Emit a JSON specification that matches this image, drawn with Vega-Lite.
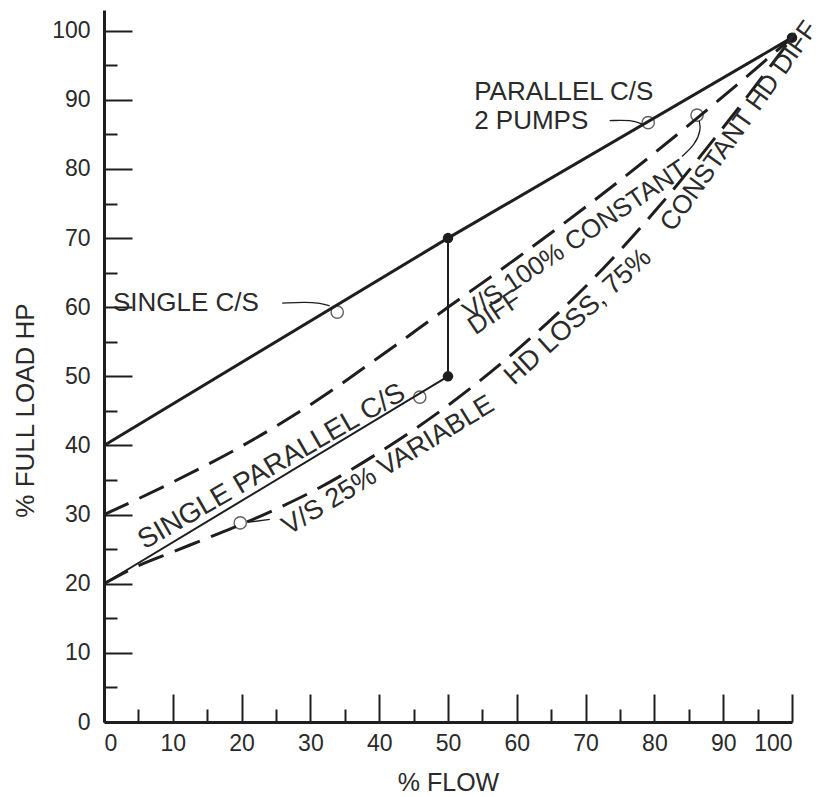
{
  "$schema": "https://vega.github.io/schema/vega-lite/v6.json",
  "autosize": {"type": "none"},
  "padding": {"left": 104, "top": 10, "right": 30, "bottom": 75},
  "width": 688,
  "height": 712,
  "background": "white",
  "config": {
    "view": {"stroke": null},
    "font": "Liberation Sans",
    "axis": {
      "grid": false,
      "domainColor": "#1e1e1e",
      "domainWidth": 3,
      "tickColor": "#1e1e1e",
      "tickWidth": 2,
      "labelColor": "#2a2a2a",
      "labelFont": "Liberation Sans",
      "labelFontSize": 23,
      "titleFont": "Liberation Sans",
      "titleFontSize": 26,
      "titleFontWeight": "normal",
      "titleColor": "#2a2a2a"
    }
  },
  "resolve": {"axis": {"x": "independent", "y": "independent"}},
  "datasets": {
    "lines": [
      {"s": "single", "x": 0, "y": 40}, {"s": "single", "x": 50, "y": 70},
      {"s": "par2", "x": 50, "y": 70}, {"s": "par2", "x": 100, "y": 99},
      {"s": "vert", "x": 50, "y": 50}, {"s": "vert", "x": 50, "y": 70},
      {"s": "spar", "x": 0, "y": 20}, {"s": "spar", "x": 50, "y": 50},
      {"s": "vs100", "x": 0, "y": 30}, {"s": "vs100", "x": 10, "y": 34.7}, {"s": "vs100", "x": 20, "y": 39.9},
      {"s": "vs100", "x": 30, "y": 45.9}, {"s": "vs100", "x": 40, "y": 52.8}, {"s": "vs100", "x": 50, "y": 60},
      {"s": "vs100", "x": 60, "y": 67.1}, {"s": "vs100", "x": 70, "y": 74.5}, {"s": "vs100", "x": 80, "y": 82.3},
      {"s": "vs100", "x": 90, "y": 90.5}, {"s": "vs100", "x": 100, "y": 99},
      {"s": "vs25", "x": 0, "y": 20}, {"s": "vs25", "x": 5, "y": 22.6}, {"s": "vs25", "x": 10, "y": 24.6},
      {"s": "vs25", "x": 15, "y": 26.6}, {"s": "vs25", "x": 20, "y": 28.6}, {"s": "vs25", "x": 25, "y": 30.8},
      {"s": "vs25", "x": 30, "y": 33.2}, {"s": "vs25", "x": 40, "y": 39}, {"s": "vs25", "x": 50, "y": 45.8},
      {"s": "vs25", "x": 60, "y": 53.8}, {"s": "vs25", "x": 70, "y": 63}, {"s": "vs25", "x": 80, "y": 73.8},
      {"s": "vs25", "x": 90, "y": 86}, {"s": "vs25", "x": 100, "y": 99}
    ],
    "leaders": [
      {"id": "a", "o": 1, "x": 25.9, "y": 60.6}, {"id": "a", "o": 2, "x": 30.7, "y": 60.8}, {"id": "a", "o": 3, "x": 32.8, "y": 60.2},
      {"id": "b", "o": 1, "x": 73.5, "y": 87.0}, {"id": "b", "o": 2, "x": 76.7, "y": 87.1}, {"id": "b", "o": 3, "x": 78.2, "y": 86.5},
      {"id": "c", "o": 1, "x": 84.0, "y": 81.8}, {"id": "c", "o": 2, "x": 85.9, "y": 83.5}, {"id": "c", "o": 3, "x": 86.8, "y": 85.7}, {"id": "c", "o": 4, "x": 86.5, "y": 87.0},
      {"id": "d", "o": 1, "x": 21.0, "y": 28.9}, {"id": "d", "o": 2, "x": 24.1, "y": 29.3}
    ],
    "rings": [
      {"x": 33.9, "y": 59.3}, {"x": 79.1, "y": 86.7}, {"x": 86.2, "y": 87.8}, {"x": 19.8, "y": 28.8}, {"x": 45.9, "y": 47.0}
    ],
    "dots": [
      {"x": 50, "y": 70}, {"x": 50, "y": 50}, {"x": 100, "y": 99}
    ],
    "labels": [
      {"k": "l", "x": 1.3, "y": 60.6, "t": "SINGLE C/S"},
      {"k": "l", "x": 53.8, "y": 91.2, "t": "PARALLEL C/S"},
      {"k": "l", "x": 53.8, "y": 86.9, "t": "2 PUMPS"},
      {"k": "r34", "x": 68.5, "y": 69.7, "t": "V/S 100% CONSTANT"},
      {"k": "r34", "x": 56.8, "y": 59.2, "t": "DIFF"},
      {"k": "r30", "x": 24.4, "y": 36.9, "t": "SINGLE PARALLEL  C/S"},
      {"k": "r31", "x": 41.3, "y": 37.1, "t": "V/S 25% VARIABLE"},
      {"k": "r42", "x": 68.9, "y": 58.6, "t": "HD LOSS, 75%"},
      {"k": "r54", "x": 92.3, "y": 86.2, "t": "CONSTANT HD DIFF"}
    ]
  },
  "layer": [
    {
      "data": {"name": "lines"},
      "transform": [{"filter": "datum.s === 'single' || datum.s === 'par2'"}],
      "mark": {"type": "line", "color": "#1e1e1e", "strokeWidth": 3},
      "encoding": {
        "x": {"field": "x", "type": "quantitative", "scale": {"domain": [0, 100], "nice": false},
          "axis": {"orient": "bottom", "values": [0,10,20,30,40,50,60,70,80,90,100],
            "tickSize": -28,
            "labelPadding": 38, "title": "% FLOW", "titleY": 60, "titleBaseline": "middle", "titleFontSize": 25}},
        "y": {"field": "y", "type": "quantitative", "scale": {"domain": [0, 103], "nice": false},
          "axis": {"orient": "left", "values": [0,10,20,30,40,50,60,70,80,90,100],
            "tickSize": -28,
            "labelPadding": 42, "title": "%  FULL  LOAD  HP", "titleX": -71, "titleY": 400, "titleBaseline": "alphabetic", "titleAngle": -90}},
        "detail": {"field": "s"}
      }
    },
    {
      "data": {"name": "lines"},
      "transform": [{"filter": "datum.s === 'vert' || datum.s === 'spar'"}],
      "mark": {"type": "line", "color": "#1e1e1e", "strokeWidth": 2},
      "encoding": {
        "x": {"field": "x", "type": "quantitative",
          "axis": {"orient": "bottom", "values": [5,15,25,35,45,55,65,75,85,95], "tickSize": -13, "labels": false, "domain": false, "title": null}},
        "y": {"field": "y", "type": "quantitative",
          "axis": {"orient": "left", "values": [5,15,25,35,45,55,65,75,85,95], "tickSize": -13, "labels": false, "domain": false, "title": null}},
        "detail": {"field": "s"}
      }
    },
    {
      "data": {"name": "lines"},
      "transform": [{"filter": "datum.s === 'vs100' || datum.s === 'vs25'"}],
      "mark": {"type": "line", "color": "#1e1e1e", "strokeWidth": 3, "strokeDash": [27, 12], "interpolate": "monotone"},
      "encoding": {
        "x": {"field": "x", "type": "quantitative", "axis": null},
        "y": {"field": "y", "type": "quantitative", "axis": null},
        "detail": {"field": "s"}
      }
    },
    {
      "data": {"name": "leaders"},
      "mark": {"type": "line", "color": "#1e1e1e", "strokeWidth": 1.3, "interpolate": "basis"},
      "encoding": {
        "x": {"field": "x", "type": "quantitative", "axis": null},
        "y": {"field": "y", "type": "quantitative", "axis": null},
        "detail": {"field": "id"},
        "order": {"field": "o"}
      }
    },
    {
      "data": {"name": "rings"},
      "mark": {"type": "point", "shape": "circle", "filled": false, "color": "#1e1e1e", "strokeWidth": 1.4, "size": 150},
      "encoding": {
        "x": {"field": "x", "type": "quantitative", "axis": null},
        "y": {"field": "y", "type": "quantitative", "axis": null}
      }
    },
    {
      "data": {"name": "dots"},
      "mark": {"type": "point", "shape": "circle", "filled": true, "color": "#1e1e1e", "opacity": 1, "size": 110},
      "encoding": {
        "x": {"field": "x", "type": "quantitative", "axis": null},
        "y": {"field": "y", "type": "quantitative", "axis": null}
      }
    },
    {
      "data": {"name": "labels"},
      "transform": [{"filter": "datum.k === 'l'"}],
      "mark": {"type": "text", "align": "left", "baseline": "middle", "fontSize": 26, "color": "#2a2a2a"},
      "encoding": {"x": {"field": "x", "type": "quantitative", "axis": null}, "y": {"field": "y", "type": "quantitative", "axis": null}, "text": {"field": "t"}}
    },
    {
      "data": {"name": "labels"},
      "transform": [{"filter": "datum.k === 'r34'"}],
      "mark": {"type": "text", "align": "center", "baseline": "middle", "fontSize": 26, "angle": 326, "color": "#2a2a2a"},
      "encoding": {"x": {"field": "x", "type": "quantitative", "axis": null}, "y": {"field": "y", "type": "quantitative", "axis": null}, "text": {"field": "t"}}
    },
    {
      "data": {"name": "labels"},
      "transform": [{"filter": "datum.k === 'r30'"}],
      "mark": {"type": "text", "align": "center", "baseline": "middle", "fontSize": 28, "angle": 330, "color": "#2a2a2a"},
      "encoding": {"x": {"field": "x", "type": "quantitative", "axis": null}, "y": {"field": "y", "type": "quantitative", "axis": null}, "text": {"field": "t"}}
    },
    {
      "data": {"name": "labels"},
      "transform": [{"filter": "datum.k === 'r31'"}],
      "mark": {"type": "text", "align": "center", "baseline": "middle", "fontSize": 27, "angle": 328.6, "color": "#2a2a2a"},
      "encoding": {"x": {"field": "x", "type": "quantitative", "axis": null}, "y": {"field": "y", "type": "quantitative", "axis": null}, "text": {"field": "t"}}
    },
    {
      "data": {"name": "labels"},
      "transform": [{"filter": "datum.k === 'r42'"}],
      "mark": {"type": "text", "align": "center", "baseline": "middle", "fontSize": 27, "angle": 317.7, "color": "#2a2a2a"},
      "encoding": {"x": {"field": "x", "type": "quantitative", "axis": null}, "y": {"field": "y", "type": "quantitative", "axis": null}, "text": {"field": "t"}}
    },
    {
      "data": {"name": "labels"},
      "transform": [{"filter": "datum.k === 'r54'"}],
      "mark": {"type": "text", "align": "center", "baseline": "middle", "fontSize": 26, "angle": 305.5, "color": "#2a2a2a"},
      "encoding": {"x": {"field": "x", "type": "quantitative", "axis": null}, "y": {"field": "y", "type": "quantitative", "axis": null}, "text": {"field": "t"}}
    }
  ]
}
